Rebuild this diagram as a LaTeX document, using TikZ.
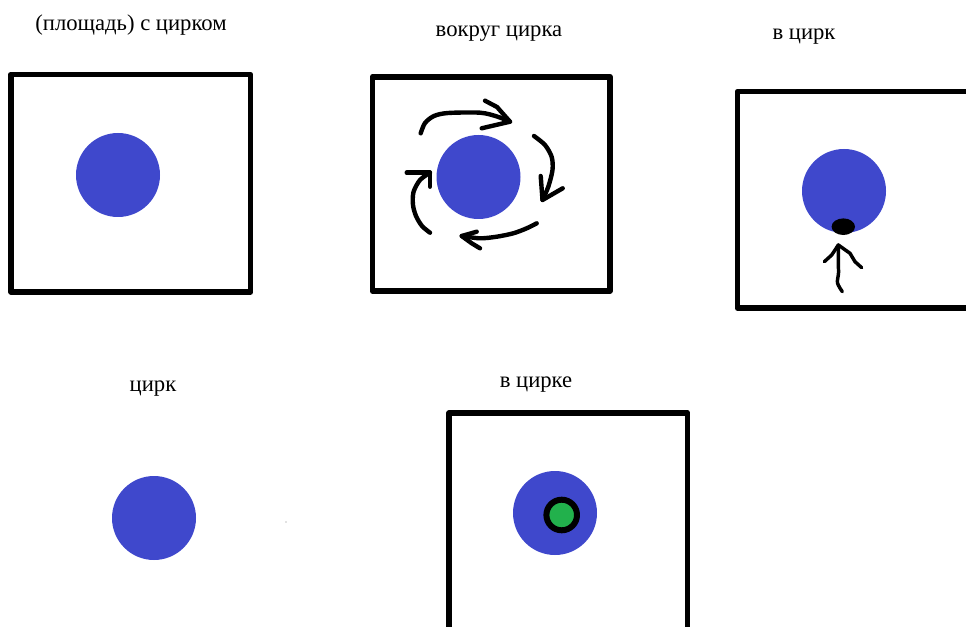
\documentclass[tikz,border=0pt]{standalone}
\usepackage{fontspec}
\setmainfont{Liberation Serif}
\definecolor{circusblue}{RGB}{63,72,204}
\definecolor{circusgreen}{RGB}{34,177,76}
\begin{document}
\begin{tikzpicture}[
    x=0.75pt,
    y=-0.75pt,
    line cap=round,
    line join=round,
    frame/.style={line width=4.3pt},
    stroke/.style={line width=3.3pt},
    thinstroke/.style={line width=2.6pt},
    caption/.style={anchor=base,inner sep=0pt,font=\fontsize{17}{20}\selectfont},
    circus/.style={fill=circusblue}
]

\useasboundingbox (0,0) rectangle (966,627);
\clip (0,0) rectangle (966,627);

% -------------------------------------------------
% Подписи
% -------------------------------------------------

\node[caption] (capA) at (131,31)  {(площадь) с цирком};
\node[caption] (capB) at (499,36.5) {вокруг цирка};
\node[caption] (capC) at (804,40)  {в цирк};
\node[caption] (capD) at (153,391.5) {цирк};
\node[caption] (capE) at (536,387) {в цирке};

% -------------------------------------------------
% Центры цирков
% -------------------------------------------------

\coordinate (OA) at (118,175);
\coordinate (OB) at (478.5,177);
\coordinate (OC) at (844,191);
\coordinate (OD) at (154,518);
\coordinate (OE) at (555,513);

% -------------------------------------------------
% Рамки
% -------------------------------------------------

\draw[frame] (11,74.5) rectangle (250.5,292);
\draw[frame] (372.5,76.7) rectangle (610,291);
\draw[frame] (975,91.5) -- (737.5,91.5) -- (737.5,308) -- (975,308);
\draw[frame] (449,640) -- (449,413) -- (687.5,413) -- (687.5,640);

% -------------------------------------------------
% Цирки
% -------------------------------------------------

\fill[circus] (OA) circle (42);
\fill[circus] (OB) circle (42);
\fill[circus] (OC) circle (42);
\fill[circus] (OD) circle (42);
\fill[circus] (OE) circle (42);

% -------------------------------------------------
% Вокруг цирка
% -------------------------------------------------

% верхняя стрелка
\coordinate (T1) at (510,121.7);
\draw[stroke] plot[smooth] coordinates {(420.7,133.3) (425,123) (434,116) (448,113) (480,112.7) (497,116.5) (T1)};
\draw[stroke] (485,100.7) -- (497,107) -- (T1) -- (481.7,128.3);

% правая стрелка
\coordinate (T2) at (542.5,200);
\draw[stroke] plot[smooth] coordinates {(534,136) (545,145) (551.7,157) (552.5,170) (548.3,186.7) (T2)};
\draw[stroke] (540.7,176) -- (T2) -- (562.7,188.3);

% нижняя стрелка
\coordinate (T3) at (461.7,236);
\draw[stroke] plot[smooth] coordinates {(536.7,223.3) (526.7,228.3) (513.3,233.3) (496.7,236.7) (480,238.3) (T3)};
\draw[stroke] (476.7,231.7) -- (T3) -- (471.7,243.3) -- (480,248.3);

% левая стрелка
\coordinate (T4) at (430,172.7);
\draw[stroke] plot[smooth] coordinates {(T4) (420,180) (413.5,192) (413,205) (416,216) (422,226) (430,232.7)};
\draw[stroke] (406.7,172.7) -- (T4) -- (430,186.7);

% -------------------------------------------------
% В цирк
% -------------------------------------------------

\fill (843.3,226.7) ellipse (11.7 and 8.3);
\coordinate (T5) at (838.3,245);
\draw[thinstroke] plot[smooth] coordinates {(842.3,291.7) (837.5,283) (838.5,273) (838.3,262) (T5)};
\draw[thinstroke] (824.3,261.7) -- (831.7,255) -- (T5) -- (850,253.3) -- (855,261.7) -- (861.7,267.7);

% -------------------------------------------------
% В цирке
% -------------------------------------------------

\draw[line width=4.5pt,fill=circusgreen] (561.7,515) circle (15.3);

% случайная точка
\fill[gray] (286,522) circle (0.7);

\end{tikzpicture}
\end{document}
